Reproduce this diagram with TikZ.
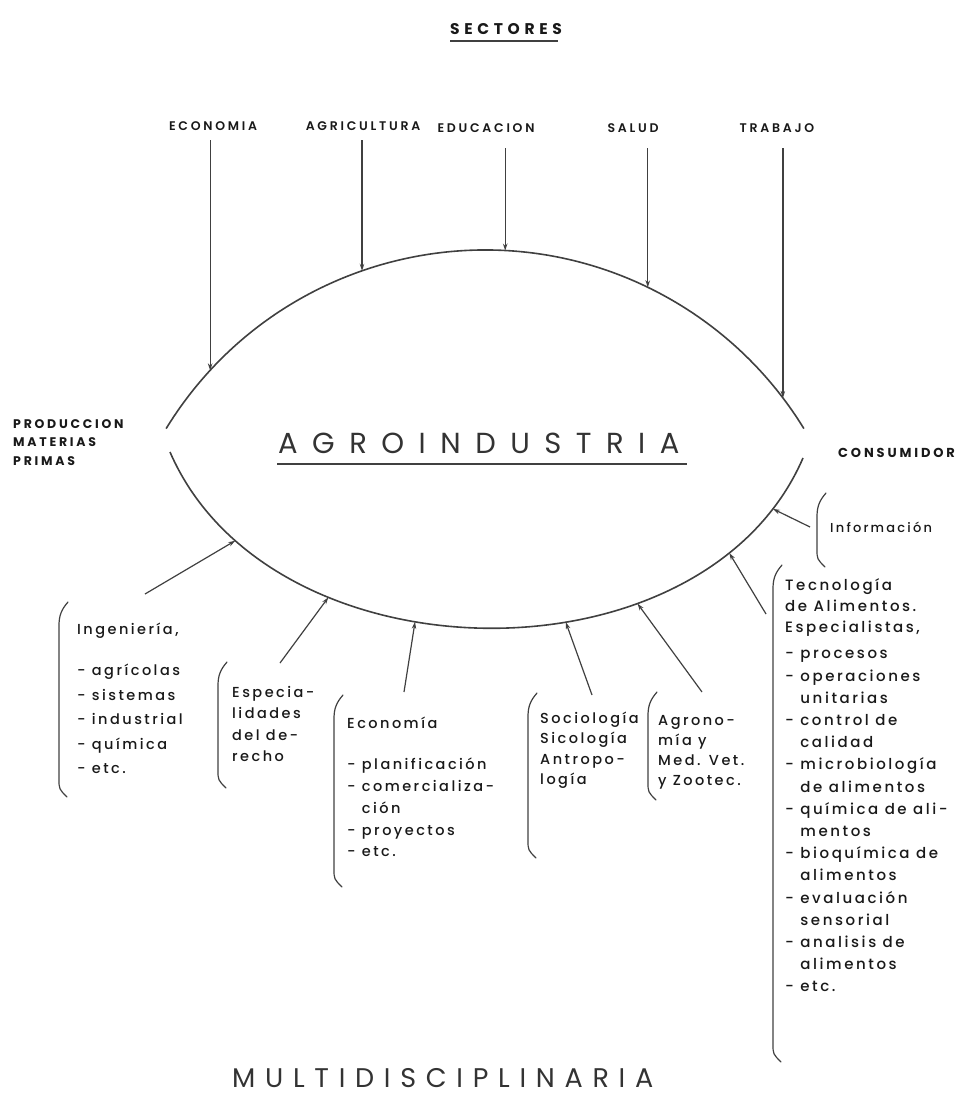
\documentclass[tikz,border=0pt]{standalone}
\usepackage{fontspec}
\setmainfont{Poppins}
\newfontfamily\bodyf{Poppins Medium}[LetterSpace=17]
\newfontfamily\capf{Poppins}[LetterSpace=22]
\newfontfamily\capm{Poppins SemiBold}[LetterSpace=22]
\newfontfamily\secf{Poppins}[LetterSpace=30]
\newfontfamily\titf{Poppins}[LetterSpace=50]
\newfontfamily\multf{Poppins}[LetterSpace=36]
\usetikzlibrary{arrows.meta,calc}
\newcommand\fstrut{\rule{0pt}{14pt}}
\newcommand\drawbrak[3]{%
  \draw[brk] ({#1+9},{-#2}) .. controls ({#1+2},{-#2-8}) and ({#1},{-#2-14}) .. ({#1},{-#2-24})
    -- ({#1},{-#3+18}) .. controls ({#1},{-#3+8}) .. ({#1+8},{-#3});}
\begin{document}
\begin{tikzpicture}[x=1pt,y=1pt,
  ink/.style={draw=black!75},
  arcline/.style={ink, line width=1.6pt},
  arr/.style={ink, line width=1.2pt, -{Stealth[length=7pt,width=4.5pt]}},
  brk/.style={ink, line width=1.2pt, line cap=round},
  lbl/.style={inner sep=0pt, anchor=base west, text=black!90},
  sect/.style={lbl, anchor=base, font=\capm\fontsize{12.5}{14}\selectfont},
  body/.style={inner sep=0pt, anchor=north west, text=black!90, align=left},
]
\useasboundingbox (0,0) rectangle (969,-1097);

% title
\node[lbl, font=\secf\bfseries\fontsize{15.5}{17}\selectfont] (sec) at (450,-35) {SECTORES};
\draw[ink, line width=1.4pt] ([yshift=-6pt]sec.base west) -- ([yshift=-6pt,xshift=-4pt]sec.base east);

% sector labels
\node[sect] (econ) at (213,-131) {ECONOMIA};
\node[sect] (agri) at (363,-131) {AGRICULTURA};
\node[sect] (edu)  at (486,-132) {EDUCACION};
\node[sect] (sal)  at (633,-132) {SALUD};
\node[sect] (trab) at (777,-132) {TRABAJO};

% upper arc
\coordinate (ct) at (485,-624);
\draw[arcline] ($(ct)+(148.5:374)$) arc[start angle=148.5, end angle=31.5, radius=374];
\coordinate (t1) at ($(ct)+(137.3:374)$);
\coordinate (t2) at ($(ct)+(109.2:374)$);
\coordinate (t3) at ($(ct)+(86.9:374)$);
\coordinate (t4) at ($(ct)+(64.2:374)$);
\coordinate (t5) at ($(ct)+(37.2:374)$);
\draw[arr] ([yshift=-9pt]econ.south -| t1) -- (t1);
\draw[arr] ([yshift=-9pt]agri.south -| t2) -- (t2);
\draw[arr] ([yshift=-16pt]edu.south -| t3) -- (t3);
\draw[arr] ([yshift=-16pt]sal.south -| t4) -- (t4);
\draw[arr] ([yshift=-16pt]trab.south -| t5) -- (t5);

% lower arc with arrow targets
\draw[arcline] (170,-452) .. controls (270,-683) and (703,-689) .. (803,-458)
  coordinate[pos=0.15] (b1) coordinate[pos=0.295] (b2) coordinate[pos=0.41] (b3)
  coordinate[pos=0.6] (b4) coordinate[pos=0.695] (b5) coordinate[pos=0.835] (b6)
  coordinate[pos=0.92] (b7);

% side labels
\node[body, font=\capf\bfseries\fontsize{12.5}{18.5}\selectfont] (prod) at (13,-414)
  {\fstrut PRODUCCION\\MATERIAS\\PRIMAS};
\node[lbl, font=\capf\bfseries\fontsize{13}{15}\selectfont] (cons) at (838,-457) {CONSUMIDOR};

% centre
\node[lbl, font=\titf\fontsize{29}{32}\selectfont, text=black!80] (agro) at (278,-453) {AGROINDUSTRIA};
\draw[ink, line width=2pt] (277,-464) -- (687,-464);

% arrows from the disciplines
\coordinate (s1) at (145,-594);
\coordinate (s2) at (280,-663);
\coordinate (s3) at (404,-692);
\coordinate (s4) at (592,-695);
\coordinate (s5) at (702,-692);
\coordinate (s6) at (766,-614);
\coordinate (s7) at (810,-527);
\foreach \i in {1,...,7} \draw[arr] (s\i) -- (b\i);

% brackets
\drawbrak{59}{602}{797}
\drawbrak{218}{662}{788}
\drawbrak{334}{695}{887}
\drawbrak{528}{693}{858}
\drawbrak{648}{692}{800}
\drawbrak{817}{493}{567}
\drawbrak{773}{565}{1062}

% texts
\node[body, font=\bodyf\fontsize{14.5}{24.5}\selectfont] (ing) at (77,-620)
  {\fstrut Ingeniería,\\[17pt]- agrícolas\\- sistemas\\- industrial\\- química\\- etc.};
\node[body, font=\bodyf\fontsize{14.5}{21.5}\selectfont] (esp) at (232,-683)
  {\fstrut Especia-\\lidades\\del de-\\recho};
\node[body, font=\bodyf\fontsize{14.5}{21.7}\selectfont] (eco) at (347,-714)
  {\fstrut Economía\\[20pt]- planificación\\- comercializa-\\\hphantom{- }ción\\- proyectos\\- etc.};
\node[body, font=\bodyf\fontsize{14.5}{20.5}\selectfont] (soc) at (540,-709)
  {\fstrut Sociología\\Sicología\\Antropo-\\logía};
\node[body, font=\bodyf\fontsize{14.5}{20}\selectfont] (agr) at (658,-711)
  {\fstrut Agrono-\\mía y\\Med. Vet.\\y Zootec.};
\node[lbl, font=\bodyf\fontsize{13}{16}\selectfont] (inf) at (830,-532) {Información};
\node[body, font=\bodyf\fontsize{15}{22.2}\selectfont] (tec) at (785,-576)
  {\fstrut Tecnología\\[-1pt]de Alimentos.\\[-1pt]Especialistas,\\[4pt]- procesos\\- operaciones\\\hphantom{- }unitarias\\- control de\\\hphantom{- }calidad\\- microbiolog\'{\i}a\\\hphantom{- }de alimentos\\- química de ali-\\\hphantom{- }mentos\\- bioquímica de\\\hphantom{- }alimentos\\- evaluación\\\hphantom{- }sensorial\\- analisis de\\\hphantom{- }alimentos\\- etc.};

\node[lbl, font=\multf\fontsize{27}{30}\selectfont, text=black!80] (multi) at (232,-1087) {MULTIDISCIPLINARIA};
\end{tikzpicture}
\end{document}
